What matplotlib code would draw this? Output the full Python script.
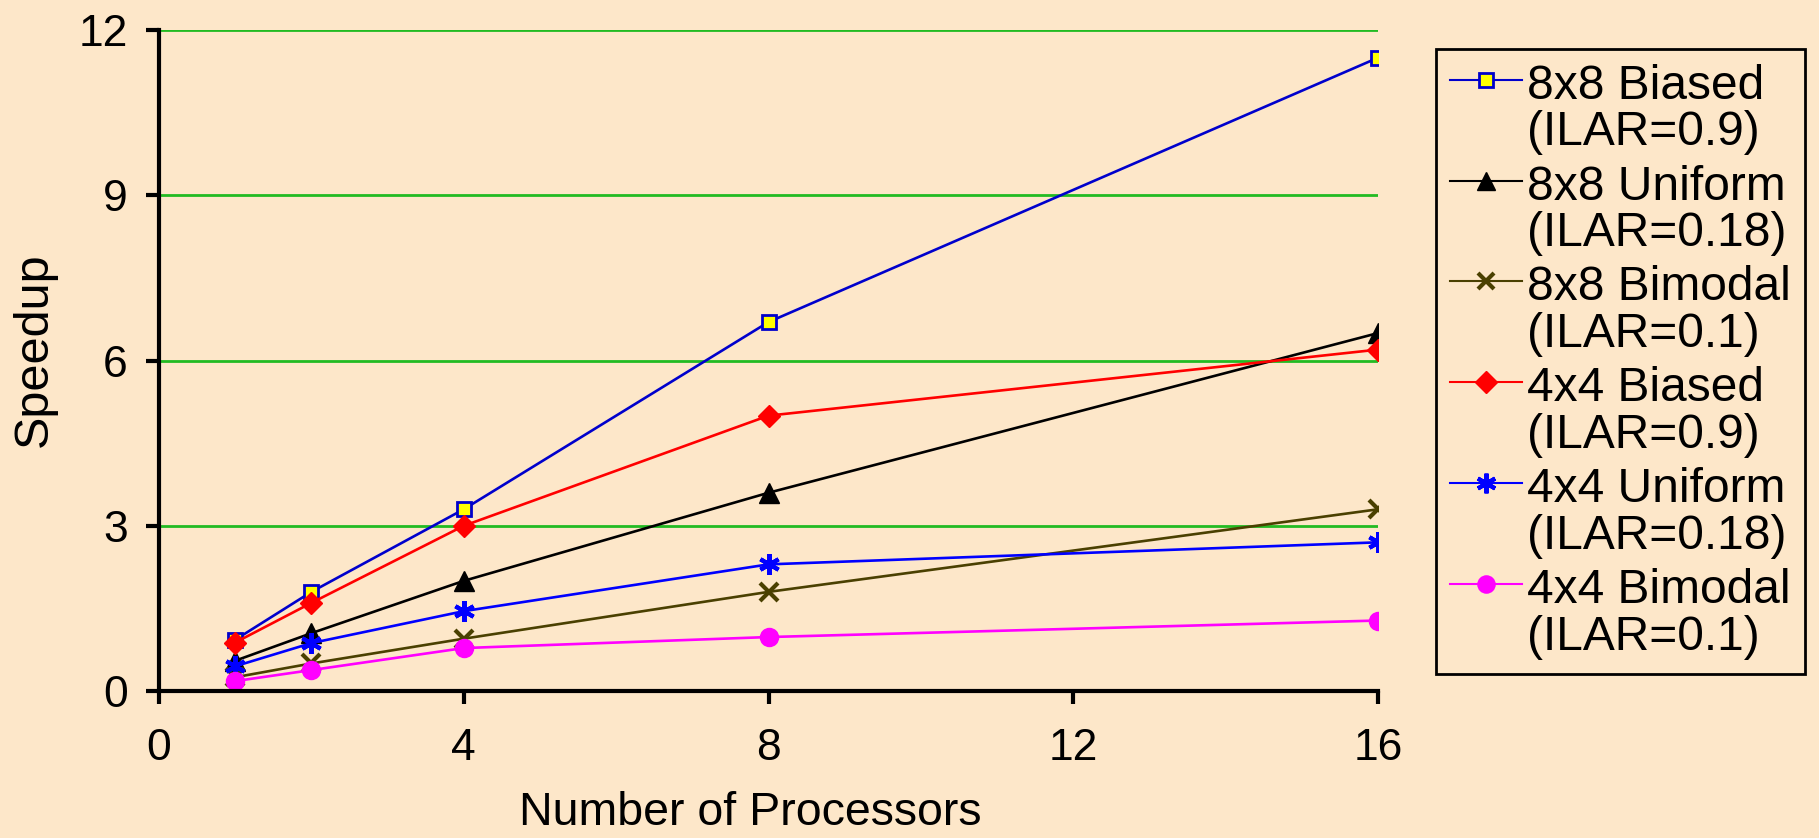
import matplotlib.pyplot as plt
from matplotlib.lines import Line2D
from matplotlib.legend_handler import HandlerLine2D

# data
procs = [1, 2, 4, 8, 16]

biased_8x8 = [0.93, 1.8, 3.3, 6.7, 11.5]
uniform_8x8 = [0.55, 1.05, 2.0, 3.6, 6.5]
bimodal_8x8 = [0.25, 0.5, 0.95, 1.8, 3.3]
biased_4x4 = [0.88, 1.6, 3.0, 5.0, 6.2]
uniform_4x4 = [0.45, 0.87, 1.45, 2.3, 2.7]
bimodal_4x4 = [0.18, 0.38, 0.78, 0.98, 1.28]

labels = ["8x8 Biased\n(ILAR=0.9)", "8x8 Uniform\n(ILAR=0.18)",
          "8x8 Bimodal\n(ILAR=0.1)", "4x4 Biased\n(ILAR=0.9)",
          "4x4 Uniform\n(ILAR=0.18)", "4x4 Bimodal\n(ILAR=0.1)"]

plt.rcParams['font.family'] = ['Liberation Sans', 'DejaVu Sans']
bg = "#FDE7C9"


# legend handle sits next to the first line of each two-line label
class TopLineHandler(HandlerLine2D):
    def create_artists(self, legend, orig_handle, xdescent, ydescent,
                       width, height, fontsize, trans):
        arts = super().create_artists(legend, orig_handle, xdescent, ydescent,
                                      width, height, fontsize, trans)
        for a in arts:
            a.set_ydata([y + 22 for y in a.get_ydata()])
        return arts


fig = plt.figure(figsize=(18.19, 8.38), dpi=100, facecolor=bg)
ax = fig.add_axes([0.0874, 0.1754, 0.6702, 0.7886], facecolor=bg)

ax.plot(procs, biased_8x8, color="#0000CC", lw=1.9, marker="s", ms=10,
        mfc="#FFFF00", mec="#0000CC", mew=2, label=labels[0])
ax.plot(procs, uniform_8x8, color="black", lw=1.9, marker="^", ms=14,
        label=labels[1])
ax.plot(procs, bimodal_8x8, color="#4A4000", lw=1.9, marker="x", ms=12.5,
        mew=3, label=labels[2])
ax.plot(procs, biased_4x4, color="#FF0000", lw=1.9, marker="D", ms=11.5,
        label=labels[3])
ax.plot(procs, uniform_4x4, color="#0000FF", lw=1.9, marker=(6, 2, 0), ms=15,
        mew=3, label=labels[4])
ax.plot(procs, bimodal_4x4, color="#FF00FF", lw=1.9, marker="o", ms=13,
        label=labels[5])

ax.set_xlim(0, 16)
ax.set_ylim(0, 12)
ax.set_xticks([0, 4, 8, 12, 16])
ax.set_yticks([0, 3, 6, 9, 12])
for y in [3, 6, 9, 12]:
    ax.axhline(y, color="#22BB22", lw=2, zorder=0)

for s in ["top", "right"]:
    ax.spines[s].set_visible(False)
for s in ["left", "bottom"]:
    ax.spines[s].set_linewidth(3)
ax.tick_params(axis="both", labelsize=32, width=3, length=9.5, direction="out")
ax.tick_params(axis="x", pad=17)
ax.tick_params(axis="y", pad=13)

ax.set_xlabel("Number of Processors", fontsize=33.5)
ax.set_ylabel("Speedup", fontsize=35)
ax.xaxis.set_label_coords(0.485, -0.152)
ax.yaxis.set_label_coords(-0.0837, 0.517)

leg = ax.legend(loc="upper left", bbox_to_anchor=(1.0476, 0.971), fontsize=34.5,
                frameon=True, fancybox=False, edgecolor="black",
                facecolor=bg, framealpha=1, handlelength=1.5,
                handletextpad=0.1, labelspacing=0.19, borderpad=0.3,
                borderaxespad=0, markerscale=0.95,
                handler_map={Line2D: TopLineHandler()})
leg.get_frame().set_linewidth(2)
for t in leg.get_texts():
    t.set_linespacing(1.05)
for h in leg.legend_handles:
    h.set_linewidth(1.5)

plt.savefig("out.png", dpi=100, facecolor=bg)
plt.close()
